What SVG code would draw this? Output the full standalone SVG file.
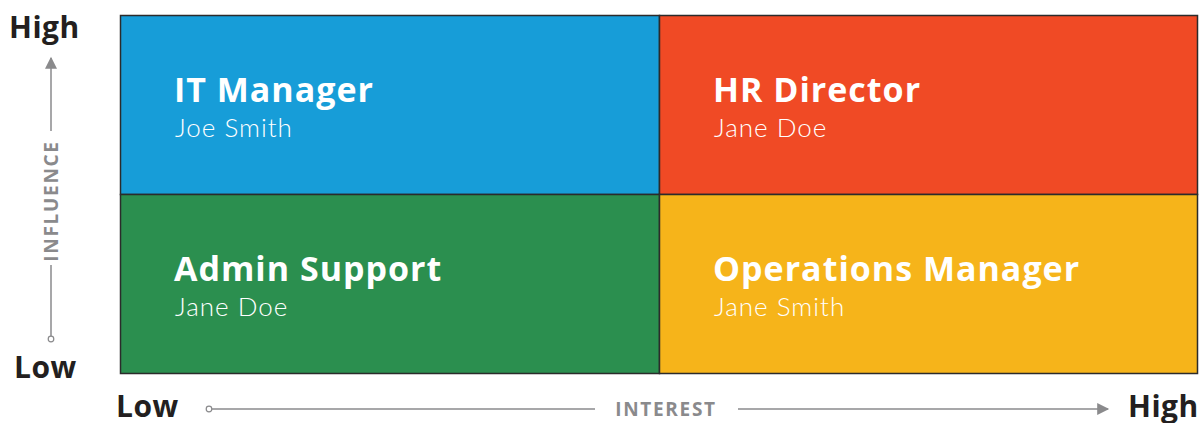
<svg xmlns="http://www.w3.org/2000/svg" width="1201" height="423" viewBox="0 0 1201 423">
<style>
.t{font-family:"Open Sans",Lato,sans-serif;font-weight:700;font-size:34px;letter-spacing:1px;fill:#fff}
.s{font-family:Lato,"Open Sans",sans-serif;font-weight:300;font-size:26px;letter-spacing:1px;fill:#fff}
.ax{font-family:"Open Sans",Lato,sans-serif;font-weight:700;font-size:30px;letter-spacing:0.5px;fill:#231f20}
.al{font-family:"Open Sans",Lato,sans-serif;font-weight:700;font-size:19px;letter-spacing:1.7px;fill:#8a8a8c}
.ln{stroke:#8a8a8c;stroke-width:1.5;fill:none}
.q{stroke:#2b2b2b;stroke-width:1.5}
</style>
<defs>
<marker id="ah" viewBox="0 0 10 10" refX="9" refY="5" markerWidth="14" markerHeight="12" markerUnits="userSpaceOnUse" orient="auto"><path d="M0,0 L10,5 L0,10 z" fill="#8a8a8c"/></marker>
</defs>
<g id="q-it"><rect class="q" x="120.5" y="15.5" width="539" height="179" fill="#179dd8"/><text class="t" x="174" y="102">IT Manager</text><text class="s" x="175" y="137">Joe Smith</text></g>
<g id="q-hr"><rect class="q" x="659.5" y="15.5" width="538" height="179" fill="#f04a25"/><text class="t" x="713" y="102">HR Director</text><text class="s" x="714" y="137">Jane Doe</text></g>
<g id="q-admin"><rect class="q" x="120.5" y="194.5" width="539" height="179" fill="#2b8f4f"/><text class="t" x="174" y="281">Admin Support</text><text class="s" x="175" y="316">Jane Doe</text></g>
<g id="q-ops"><rect class="q" x="659.5" y="194.5" width="538" height="179" fill="#f6b41a"/><text class="t" x="713" y="281">Operations Manager</text><text class="s" x="714" y="316">Jane Smith</text></g>
<g id="connectors">
<line class="ln" x1="51" y1="131" x2="51" y2="58" marker-end="url(#ah)"/>
<line class="ln" x1="51" y1="265" x2="51" y2="336"/>
<circle cx="51" cy="339" r="2.8" fill="#fff" stroke="#8a8a8c" stroke-width="1.2"/>
<circle cx="209" cy="409" r="2.8" fill="#fff" stroke="#8a8a8c" stroke-width="1.2"/>
<line class="ln" x1="212" y1="409" x2="595" y2="409"/>
<line class="ln" x1="738" y1="409" x2="1108" y2="409" marker-end="url(#ah)"/>
</g>
<g id="axis-labels">
<text class="ax" x="9" y="38">High</text>
<text class="ax" x="14" y="378">Low</text>
<text class="ax" x="116" y="417">Low</text>
<text class="ax" x="1128" y="417">High</text>
<text class="al" x="666" y="416" text-anchor="middle">INTEREST</text>
<text class="al" transform="translate(58,201) rotate(-90)" text-anchor="middle">INFLUENCE</text>
</g>
</svg>
